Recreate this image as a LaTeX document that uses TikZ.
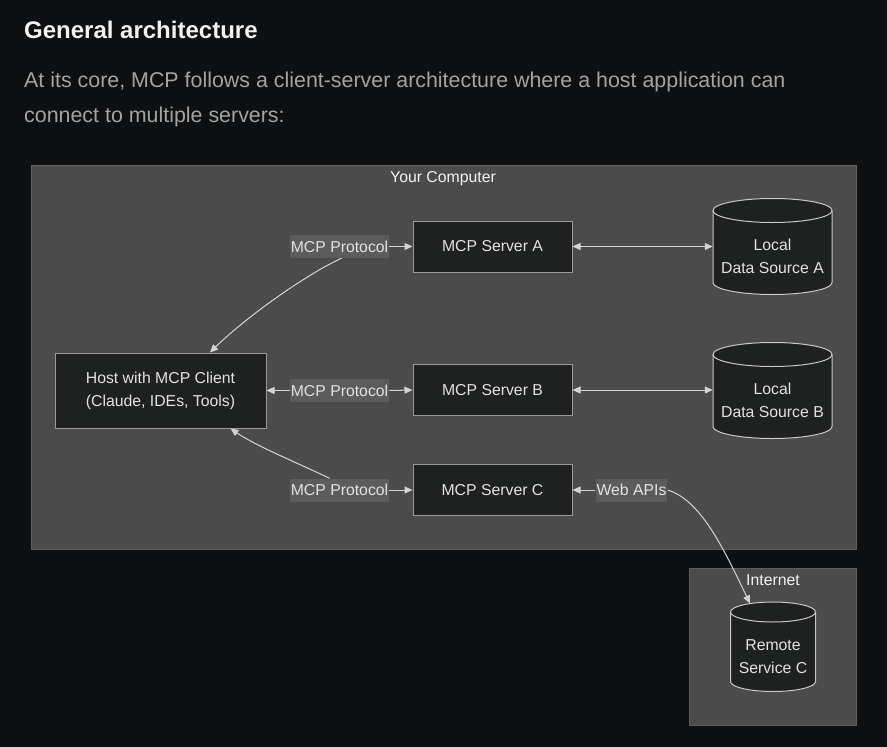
\documentclass[tikz,border=0pt]{standalone}
\usepackage{fontspec}
\setmainfont{Liberation Sans}
\usetikzlibrary{arrows.meta,calc}
\definecolor{bg}{HTML}{0E0F11}
\definecolor{panel}{HTML}{4B4B4B}
\definecolor{panelborder}{HTML}{5E5E5E}
\definecolor{nodefill}{HTML}{1F2020}
\definecolor{nodeborder}{HTML}{9A9A9A}
\definecolor{cylborder}{HTML}{C8C8C8}
\definecolor{lblfill}{HTML}{5C5C5C}
\definecolor{edgecol}{HTML}{D4D4D4}
\definecolor{txt}{HTML}{E2E2E2}
\definecolor{paratxt}{HTML}{A3A3A3}
\definecolor{titletxt}{HTML}{F2F2F2}
\begin{document}
\begin{tikzpicture}[x=1pt,y=-1pt,
  diag/.style={font=\fontsize{15.8}{23}\selectfont, text=txt},
  boxnode/.style={diag, draw=nodeborder, fill=nodefill, line width=1pt, align=center, inner sep=0pt},
  srvbox/.style={boxnode, minimum width=159pt, minimum height=51pt},
  edgelbl/.style={diag, fill=lblfill, inner xsep=1pt, inner ysep=0pt, minimum height=23pt},
  cyltext/.style={diag, align=center, inner sep=0pt},
  cylfill/.style={fill=nodefill},
  cylline/.style={draw=cylborder, line width=1pt},
  conn/.style={draw=edgecol, line width=1pt},
  tip/.style={-{Triangle[length=8pt,width=7pt]}},
  bitip/.style={{Triangle[length=8pt,width=7pt]}-{Triangle[length=8pt,width=7pt]}},
  panelbox/.style={fill=panel, draw=panelborder, line width=0.8pt},
  paneltitle/.style={diag, text=titletxt, anchor=base, inner sep=0pt}
]
\fill[bg] (0,0) rectangle (887,747);
\useasboundingbox (0,0) rectangle (887,747);

% heading and paragraph
\node[anchor=base west, inner sep=0pt, text=titletxt, font=\fontsize{24}{28}\bfseries] (title) at (24,38.5) {General architecture};
\node[anchor=base west, inner sep=0pt, text=paratxt, font=\fontsize{21.4}{35}\selectfont] (para1) at (24,87) {At its core, MCP follows a client-server architecture where a host application can};
\node[anchor=base west, inner sep=0pt, text=paratxt, font=\fontsize{21.4}{35}\selectfont] (para2) at (24,122) {connect to multiple servers:};

% panels
\draw[panelbox] (31,165) rectangle (856,549);
\node[paneltitle] (yc) at (443,182) {Your Computer};
\draw[panelbox] (689.5,568) rectangle (856,725);
\node[paneltitle] (inet) at (773,585) {Internet};

% cylinders
\path[cylfill] (713,210.5) -- (713,282.5) arc[start angle=180,end angle=0,x radius=59.5,y radius=12] -- (832,210.5) arc[start angle=0,end angle=-180,x radius=59.5,y radius=12] -- cycle;
\path[cylline] (713,210.5) -- (713,282.5) arc[start angle=180,end angle=0,x radius=59.5,y radius=12] -- (832,210.5);
\path[cylline] (772.5,210.5) ellipse[x radius=59.5,y radius=12];

\path[cylfill] (713,354.5) -- (713,426.5) arc[start angle=180,end angle=0,x radius=59.5,y radius=12] -- (832,354.5) arc[start angle=0,end angle=-180,x radius=59.5,y radius=12] -- cycle;
\path[cylline] (713,354.5) -- (713,426.5) arc[start angle=180,end angle=0,x radius=59.5,y radius=12] -- (832,354.5);
\path[cylline] (772.5,354.5) ellipse[x radius=59.5,y radius=12];

\path[cylfill] (730.5,612) -- (730.5,681.5) arc[start angle=180,end angle=0,x radius=42.5,y radius=10] -- (815.5,612) arc[start angle=0,end angle=-180,x radius=42.5,y radius=10] -- cycle;
\path[cylline] (730.5,612) -- (730.5,681.5) arc[start angle=180,end angle=0,x radius=42.5,y radius=10] -- (815.5,612);
\path[cylline] (773,612) ellipse[x radius=42.5,y radius=10];

\node[cyltext, minimum width=119pt] (dsA) at (772.5,256.3) {Local\\Data Source A};
\node[cyltext, minimum width=119pt] (dsB) at (772.5,400.3) {Local\\Data Source B};
\node[cyltext, minimum width=85pt] (rem) at (773,656.5) {Remote\\Service C};
\coordinate (remtop) at (750,603.5);

% boxes
\node[boxnode, minimum width=211pt, minimum height=75pt] (host) at (160.5,390.5) {Host with MCP Client\\(Claude, IDEs, Tools)};
\node[srvbox] (srvA) at (492.5,246.5) {MCP Server A};
\node[srvbox] (srvB) at (492.5,390) {MCP Server B};
\node[srvbox] (srvC) at (492.5,490) {MCP Server C};

% edge labels
\node[edgelbl] (lblA) at (339.5,246.5) {MCP Protocol};
\node[edgelbl] (lblB) at (339.5,390.5) {MCP Protocol};
\node[edgelbl] (lblC) at (339.5,490) {MCP Protocol};
\node[edgelbl] (lblW) at (631.5,490) {Web APIs};

% connectors
\draw[conn,tip] ($(lblA.south)+(2,0)$) .. controls (305,275) and (245,318) .. ($(host.north)+(49.5,0)$);
\draw[conn,tip] (lblA.east) -- (srvA.west);
\draw[conn,tip] (lblB.west) -- (host.east);
\draw[conn,tip] (lblB.east) -- (srvB.west);
\draw[conn,tip] ($(lblC.north west)+(40,0)$) .. controls (300,464) and (256,446) .. ($(host.south)+(70,0)$);
\draw[conn,tip] (lblC.east) -- (srvC.west);
\draw[conn,bitip] (srvA.east) -- (srvA.east -| dsA.west);
\draw[conn,bitip] (srvB.east) -- (srvB.east -| dsB.west);
\draw[conn,tip] (lblW.west) -- (srvC.east);
\draw[conn,tip] (lblW.east) .. controls (700,500) and (722,545) .. (remtop);
\end{tikzpicture}
\end{document}
